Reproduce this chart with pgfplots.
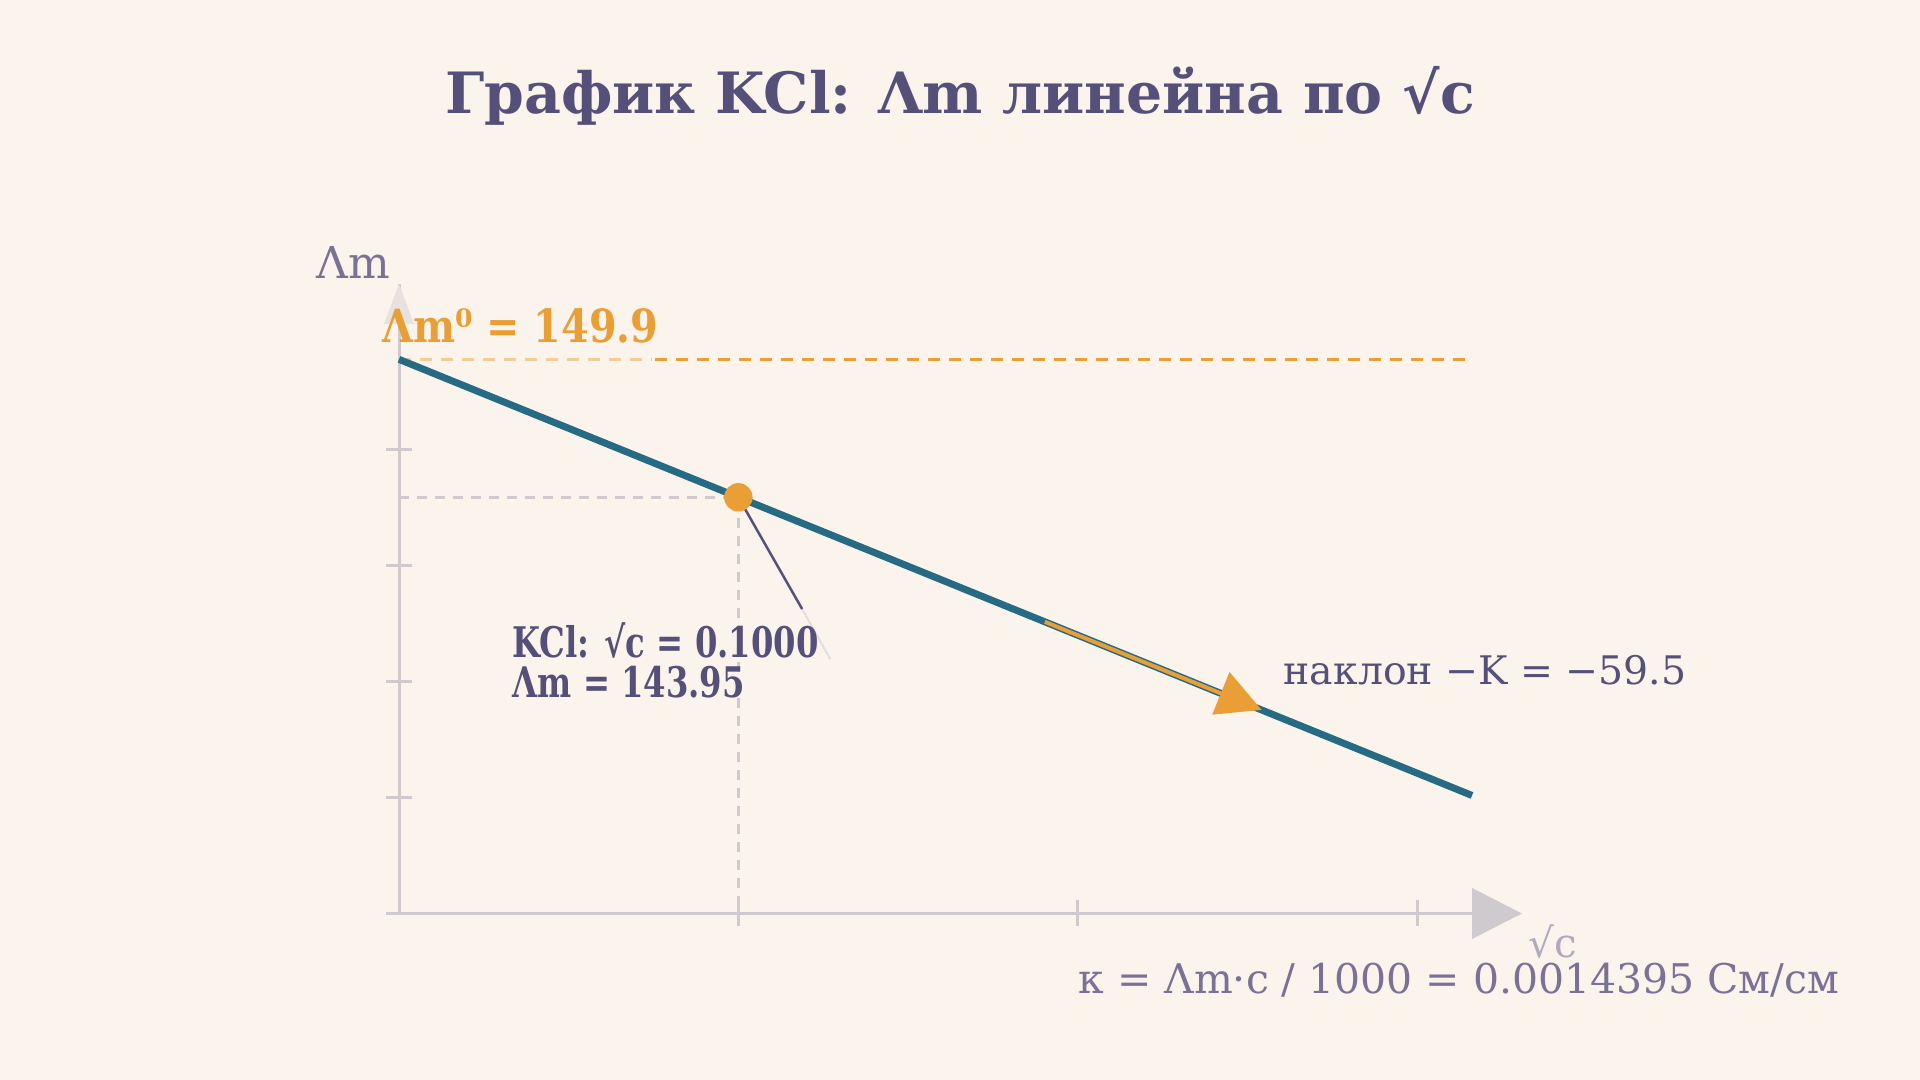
\documentclass[border=0pt]{standalone}
\usepackage{pgfplots}
\pgfplotsset{compat=1.18}
\usepackage{fontspec}
\usetikzlibrary{arrows.meta}
\setmainfont{DejaVu Serif}
\newfontfamily\condfont[FakeStretch=0.765]{DejaVu Serif}
\newfontfamily\semicond[FakeStretch=0.87]{DejaVu Serif}

\definecolor{bg}{HTML}{FAF4EC}
\definecolor{titlecol}{HTML}{55507A}
\definecolor{softcol}{HTML}{7A7196}
\definecolor{kclorange}{HTML}{E99E36}
\definecolor{lineteal}{HTML}{266A84}
\definecolor{axisgrey}{HTML}{CFCACE}

\begin{document}
\begin{tikzpicture}[x=1mm,y=1mm]
\fill[bg] (0,0) rectangle (192,108);
\useasboundingbox (0,0) rectangle (192,108);

\begin{axis}[
  at={(39.9mm,16.65mm)}, anchor=south west,
  scale only axis, width=107.3mm, height=62.95mm,
  xmin=0, xmax=0.3162, ymin=126, ymax=153.15,
  axis lines=left,
  axis line style={-, draw=axisgrey, line width=0.3mm},
  xtick={0.1,0.2,0.3}, ytick={126,131,136,141,146},
  xticklabels={}, yticklabels={},
  tick align=center, major tick length=2.6mm,
  tick style={axisgrey, line width=0.3mm},
  clip=false]

% reference lines
\addplot[axisgrey, line width=0.33mm, dash pattern=on 1mm off 0.8mm]
  coordinates {(0,143.95) (0.1,143.95) (0.1,126)};
\addplot[kclorange!45!bg, line width=0.33mm, dash pattern=on 1.2mm off 0.9mm]
  coordinates {(0,149.9) (0.0745,149.9)};
\addplot[kclorange, line width=0.33mm, dash pattern=on 1.2mm off 0.9mm]
  coordinates {(0.0755,149.9) (0.3162,149.9)};

% Lambda_m vs sqrt(c)
\addplot[lineteal, line width=0.7mm] coordinates {(0,149.9) (0.3162,131.09)};

% slope arrow
\addplot[kclorange, line width=0.4mm, -{Triangle[length=4.4mm,width=4.5mm]}]
  coordinates {(0.1903,138.58) (0.2542,134.78)};

% leader to the point
\draw[axisgrey!60, line width=0.2mm] (axis cs:0.1188,139.13) -- (axis cs:0.1271,136.97);
\draw[titlecol, line width=0.25mm] (axis cs:0.1,143.95) -- (axis cs:0.1188,139.13);

\addplot[only marks, mark=*, mark size=1.35mm, kclorange] coordinates {(0.1,143.95)};

\coordinate (xend) at (axis cs:0.3162,126);
\coordinate (ytop) at (axis cs:0,153.15);
\end{axis}

% axis arrow heads
\fill[axisgrey] (xend) ++(0,2.55) -- ++(5,-2.55) -- ++(-5,-2.55) -- cycle;
\fill[axisgrey!45!bg] (ytop) ++(-1.5,-4) -- ++(1.5,4) -- ++(1.5,-4) -- cycle;

\node[anchor=base, text=titlecol, font=\fontsize{16.2}{19}\selectfont\bfseries]
  at (96,96.6) {График KCl: Λm линейна по √c};

\node[anchor=base west, inner sep=0pt, text=softcol, font=\fontsize{12.5}{14}\selectfont]
  at (31.6,80.1) {Λm};

\node[anchor=base west, inner sep=0pt, text=kclorange, font=\semicond\fontsize{13}{15}\selectfont\bfseries]
  at (38.2,73.7) {Λm⁰ = 149.9};

\node[anchor=base west, inner sep=0pt, text=titlecol, font=\condfont\fontsize{12}{14}\selectfont\bfseries]
  at (51.2,42.2) {KCl: √c = 0.1000};
\node[anchor=base west, inner sep=0pt, text=titlecol, font=\condfont\fontsize{12}{14}\selectfont\bfseries]
  at (51.2,38.2) {Λm = 143.95};

\node[anchor=base west, inner sep=0pt, text=titlecol, font=\fontsize{11.2}{14}\selectfont]
  at (128.3,39.5) {наклон −K = −59.5};

\node[anchor=base west, inner sep=0pt, text=softcol!60, font=\fontsize{11.5}{14}\selectfont]
  at (152.8,12.2) {√c};
\node[anchor=base west, inner sep=0.6mm, fill=bg, text=softcol, font=\fontsize{11.65}{14}\selectfont]
  at (107.2,8.6) {κ = Λm·c / 1000 = 0.0014395 См/см};
\end{tikzpicture}
\end{document}
